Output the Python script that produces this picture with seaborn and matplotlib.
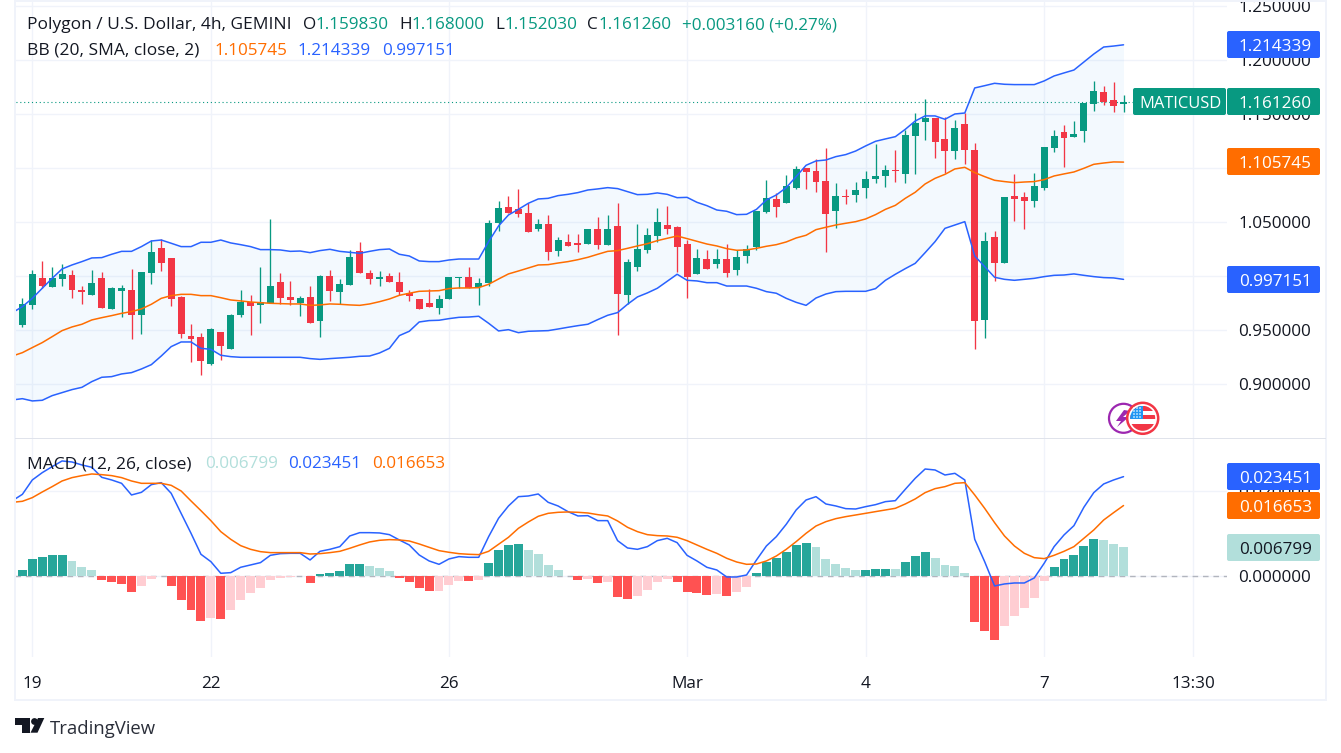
import numpy as np
import pandas as pd
import seaborn as sns
import matplotlib.pyplot as plt
from matplotlib.patches import Circle, FancyBboxPatch, Polygon, Rectangle

# -----------------------------
# Data (4h candles)
# -----------------------------
opens = [
    0.9484, 0.9549, 0.9735, 0.9985, 0.9901, 0.9975, 1.0012, 0.9873, 0.9827, 0.9985,
    0.9698, 0.9864, 0.9873, 0.9642, 1.0031, 1.0262, 1.0170, 0.9809, 0.9448, 0.9438,
    0.9188, 0.9485, 0.9327, 0.9642, 0.9762, 0.9735, 0.9750, 0.9948, 0.9809, 0.9753,
    0.9809, 0.9586, 1.0003, 0.9855, 0.9920, 1.0235, 1.0031, 0.9975, 1.0003, 0.9948,
    0.9846, 0.9790, 0.9753, 0.9707, 0.9790, 0.9981, 0.9994, 0.9901, 0.9938, 1.0494,
    1.0642, 1.0623, 1.0586, 1.0438, 1.0485, 1.0235, 1.0318, 1.0309, 1.0299, 1.0438,
    1.0290, 1.0466, 0.9827, 1.0086, 1.0244, 1.0373, 1.0475, 1.0457, 1.0299, 1.0022,
    1.0160, 1.0114, 1.0160, 1.0059, 1.0188, 1.0272, 1.0596, 1.0716, 1.0679, 1.0818,
    1.1003, 1.0975, 1.0883, 1.0605, 1.0744, 1.0753, 1.0818, 1.0901, 1.0929, 1.0985,
    1.0948, 1.1299, 1.1429, 1.1466, 1.1272, 1.1160, 1.1410, 1.1170, 0.9596, 1.0364,
    1.0123, 1.0744, 1.0735, 1.0698, 1.0818, 1.1188, 1.1336, 1.1290, 1.1346, 1.1596,
    1.1707, 1.1633, 1.15983,
]
highs = [
    0.9540, 0.9799, 1.0059, 1.0142, 1.0086, 1.0114, 1.0059, 0.9910, 1.0059, 1.0040,
    0.9901, 0.9920, 1.0068, 1.0040, 1.0336, 1.0346, 1.0170, 0.9818, 0.9559, 0.9475,
    0.9522, 0.9485, 0.9651, 0.9873, 0.9827, 1.0086, 1.0531, 1.0031, 0.9957, 0.9818,
    0.9910, 1.0012, 1.0059, 0.9975, 1.0244, 1.0318, 1.0059, 1.0049, 1.0031, 1.0040,
    0.9873, 0.9790, 0.9883, 0.9827, 0.9994, 0.9994, 1.0086, 0.9985, 1.0522, 1.0698,
    1.0744, 1.0809, 1.0679, 1.0531, 1.0568, 1.0364, 1.0392, 1.0392, 1.0438, 1.0549,
    1.0568, 1.0679, 1.0160, 1.0485, 1.0448, 1.0633, 1.0651, 1.0466, 1.0336, 1.0253,
    1.0244, 1.0253, 1.0299, 1.0244, 1.0290, 1.0605, 1.0892, 1.0772, 1.0938, 1.1022,
    1.1003, 1.1086, 1.1188, 1.0864, 1.0809, 1.0873, 1.0975, 1.1225, 1.1031, 1.1170,
    1.1355, 1.1512, 1.1642, 1.1466, 1.1475, 1.1448, 1.1512, 1.1235, 1.0410, 1.0420,
    1.0735, 1.0948, 1.0781, 1.0957, 1.1198, 1.1355, 1.1401, 1.1438, 1.1605, 1.1809,
    1.1762, 1.1799, 1.16800,
]
lows = [
    0.9484, 0.9534, 0.9698, 0.9892, 0.9901, 0.9910, 0.9799, 0.9744, 0.9827, 0.9707,
    0.9698, 0.9623, 0.9420, 0.9466, 0.9929, 1.0049, 0.9725, 0.9429, 0.9207, 0.9086,
    0.9179, 0.9225, 0.9327, 0.9623, 0.9457, 0.9568, 0.9750, 0.9744, 0.9735, 0.9633,
    0.9568, 0.9438, 0.9772, 0.9744, 0.9920, 1.0031, 0.9929, 0.9910, 0.9948, 0.9827,
    0.9772, 0.9698, 0.9716, 0.9651, 0.9790, 0.9892, 0.9892, 0.9735, 0.9910, 1.0420,
    1.0586, 1.0549, 1.0410, 1.0420, 1.0151, 1.0188, 1.0281, 1.0225, 1.0299, 1.0253,
    1.0290, 0.9457, 0.9744, 1.0049, 1.0216, 1.0318, 1.0392, 1.0040, 0.9799, 1.0022,
    1.0068, 1.0077, 0.9994, 1.0012, 1.0123, 1.0244, 1.0586, 1.0549, 1.0679, 1.0809,
    1.0809, 1.0781, 1.0225, 1.0448, 1.0670, 1.0688, 1.0725, 1.0864, 1.0827, 1.0873,
    1.0864, 1.0948, 1.1262, 1.1096, 1.0957, 1.1086, 1.1040, 0.9327, 0.9429, 0.9957,
    1.0123, 1.0512, 1.0438, 1.0642, 1.0799, 1.1151, 1.1012, 1.1290, 1.1244, 1.1531,
    1.1586, 1.1522, 1.15203,
]
closes = [
    0.9540, 0.9744, 1.0022, 0.9910, 0.9988, 1.0022, 0.9873, 0.9855, 0.9938, 0.9707,
    0.9892, 0.9892, 0.9642, 1.0040, 1.0225, 1.0123, 0.9790, 0.9466, 0.9420, 0.9216,
    0.9512, 0.9355, 0.9642, 0.9762, 0.9725, 0.9762, 0.9910, 0.9799, 0.9781, 0.9799,
    0.9568, 1.0003, 0.9864, 0.9929, 1.0179, 1.0031, 0.9975, 0.9994, 0.9948, 0.9855,
    0.9818, 0.9698, 0.9716, 0.9790, 0.9994, 0.9991, 0.9892, 0.9938, 1.0494, 1.0633,
    1.0586, 1.0577, 1.0410, 1.0485, 1.0225, 1.0336, 1.0281, 1.0293, 1.0438, 1.0290,
    1.0438, 0.9836, 1.0133, 1.0253, 1.0383, 1.0503, 1.0438, 1.0272, 0.9994, 1.0170,
    1.0068, 1.0160, 1.0031, 1.0179, 1.0253, 1.0605, 1.0725, 1.0642, 1.0836, 1.0994,
    1.0966, 1.0873, 1.0577, 1.0744, 1.0735, 1.0799, 1.0901, 1.0929, 1.0985, 1.0978,
    1.1309, 1.1420, 1.1466, 1.1244, 1.1160, 1.1373, 1.1170, 0.9586, 1.0327, 1.0123,
    1.0735, 1.0716, 1.0698, 1.0836, 1.1198, 1.1299, 1.1281, 1.1318, 1.1605, 1.1716,
    1.1614, 1.1577, 1.16126,
]

bb_upper = [
    0.9664, 0.9719, 0.9796, 0.9889, 0.9981, 1.0068, 1.0105, 1.0136, 1.0170, 1.0173,
    1.0204, 1.0231, 1.0231, 1.0275, 1.0327, 1.0336, 1.0306, 1.0275, 1.0275, 1.0315,
    1.0315, 1.0336, 1.0309, 1.0293, 1.0275, 1.0247, 1.0247, 1.0244, 1.0231, 1.0234,
    1.0219, 1.0238, 1.0250, 1.0231, 1.0222, 1.0213, 1.0231, 1.0247, 1.0253, 1.0204,
    1.0188, 1.0142, 1.0136, 1.0136, 1.0151, 1.0160, 1.0160, 1.0160, 1.0321, 1.0466,
    1.0568, 1.0620, 1.0676, 1.0716, 1.0722, 1.0747, 1.0759, 1.0775, 1.0799, 1.0809,
    1.0821, 1.0812, 1.0784, 1.0756, 1.0759, 1.0772, 1.0759, 1.0728, 1.0731, 1.0685,
    1.0654, 1.0614, 1.0602, 1.0571, 1.0574, 1.0620, 1.0707, 1.0753, 1.0821, 1.0923,
    1.1028, 1.1068, 1.1077, 1.1108, 1.1127, 1.1160, 1.1207, 1.1250, 1.1272, 1.1293,
    1.1361, 1.1438, 1.1485, 1.1485, 1.1454, 1.1503, 1.1512, 1.1744, 1.1765, 1.1787,
    1.1778, 1.1775, 1.1775, 1.1775, 1.1809, 1.1855, 1.1883, 1.1910, 1.1984, 1.2058,
    1.2123, 1.2132, 1.214339,
]
bb_basis = [
    0.9262, 0.9293, 0.9340, 0.9386, 0.9441, 0.9497, 0.9531, 0.9556, 0.9596, 0.9617,
    0.9636, 0.9657, 0.9673, 0.9698, 0.9741, 0.9796, 0.9821, 0.9833, 0.9833, 0.9821,
    0.9821, 0.9802, 0.9781, 0.9772, 0.9762, 0.9756, 0.9750, 0.9747, 0.9744, 0.9744,
    0.9731, 0.9735, 0.9744, 0.9741, 0.9735, 0.9731, 0.9744, 0.9765, 0.9790, 0.9824,
    0.9843, 0.9861, 0.9864, 0.9867, 0.9886, 0.9892, 0.9892, 0.9895, 0.9926, 0.9975,
    1.0022, 1.0049, 1.0077, 1.0105, 1.0108, 1.0123, 1.0136, 1.0154, 1.0176, 1.0204,
    1.0231, 1.0238, 1.0259, 1.0281, 1.0302, 1.0330, 1.0352, 1.0373, 1.0349, 1.0324,
    1.0299, 1.0281, 1.0256, 1.0241, 1.0244, 1.0259, 1.0278, 1.0293, 1.0318, 1.0355,
    1.0380, 1.0432, 1.0454, 1.0475, 1.0491, 1.0506, 1.0531, 1.0571, 1.0620, 1.0657,
    1.0722, 1.0778, 1.0855, 1.0907, 1.0944, 1.0994, 1.1009, 1.0960, 1.0923, 1.0889,
    1.0877, 1.0867, 1.0873, 1.0877, 1.0895, 1.0929, 1.0948, 1.0966, 1.1000, 1.1037,
    1.1049, 1.1059, 1.105745,
]
bb_lower = [
    0.8855, 0.8867, 0.8846, 0.8852, 0.8895, 0.8923, 0.8951, 0.8972, 0.9025, 0.9065,
    0.9071, 0.9096, 0.9108, 0.9142, 0.9182, 0.9262, 0.9349, 0.9392, 0.9392, 0.9333,
    0.9324, 0.9269, 0.9256, 0.9250, 0.9250, 0.9250, 0.9250, 0.9250, 0.9250, 0.9250,
    0.9238, 0.9231, 0.9238, 0.9244, 0.9250, 0.9259, 0.9262, 0.9290, 0.9333, 0.9451,
    0.9491, 0.9577, 0.9590, 0.9593, 0.9608, 0.9620, 0.9623, 0.9630, 0.9565, 0.9494,
    0.9506, 0.9478, 0.9491, 0.9494, 0.9497, 0.9512, 0.9528, 0.9543, 0.9556, 0.9599,
    0.9639, 0.9664, 0.9741, 0.9809, 0.9846, 0.9889, 0.9954, 1.0019, 0.9963, 0.9957,
    0.9941, 0.9941, 0.9910, 0.9910, 0.9910, 0.9889, 0.9858, 0.9843, 0.9796, 0.9759,
    0.9731, 0.9799, 0.9836, 0.9858, 0.9861, 0.9861, 0.9861, 0.9886, 0.9963, 1.0019,
    1.0071, 1.0120, 1.0219, 1.0321, 1.0444, 1.0475, 1.0506, 1.0188, 1.0090, 0.9991,
    0.9972, 0.9963, 0.9972, 0.9981, 0.9997, 1.0009, 1.0012, 1.0022, 1.0009, 0.9997,
    0.9988, 0.9985, 0.997151,
]

macd_line = [
    0.01780, 0.01929, 0.02267, 0.02439, 0.02580, 0.02714, 0.02690, 0.02620, 0.02565, 0.02329,
    0.02267, 0.02188, 0.01914, 0.01976, 0.02157, 0.02204, 0.01953, 0.01482, 0.01012, 0.00518,
    0.00345, 0.00071, 0.00086, 0.00212, 0.00267, 0.00322, 0.00494, 0.00533, 0.00541, 0.00541,
    0.00384, 0.00588, 0.00635, 0.00698, 0.00949, 0.01027, 0.01027, 0.01020, 0.00980, 0.00855,
    0.00737, 0.00502, 0.00361, 0.00282, 0.00408, 0.00463, 0.00447, 0.00447, 0.00933, 0.01365,
    0.01655, 0.01874, 0.01890, 0.01937, 0.01741, 0.01655, 0.01522, 0.01420, 0.01427, 0.01310,
    0.01310, 0.00839, 0.00667, 0.00635, 0.00698, 0.00839, 0.00894, 0.00792, 0.00494, 0.00361,
    0.00212, 0.00149, -0.00016, -0.00016, 0.00031, 0.00384, 0.00714, 0.00933, 0.01224, 0.01561,
    0.01796, 0.01874, 0.01702, 0.01655, 0.01592, 0.01584, 0.01639, 0.01686, 0.01757, 0.01780,
    0.02047, 0.02306, 0.02525, 0.02502, 0.02384, 0.02423, 0.02267, 0.00871, 0.00345, -0.00227,
    -0.00180, -0.00157, -0.00157, -0.00039, 0.00306, 0.00698, 0.00973, 0.01192, 0.01624, 0.01969,
    0.02173, 0.02267, 0.023451,
]
macd_signal = [
    0.01741, 0.01765, 0.01851, 0.01984, 0.02110, 0.02243, 0.02322, 0.02369, 0.02408, 0.02392,
    0.02369, 0.02322, 0.02243, 0.02188, 0.02188, 0.02188, 0.02141, 0.02008, 0.01773, 0.01545,
    0.01310, 0.01051, 0.00871, 0.00722, 0.00635, 0.00580, 0.00557, 0.00557, 0.00557, 0.00557,
    0.00525, 0.00533, 0.00557, 0.00588, 0.00659, 0.00737, 0.00808, 0.00847, 0.00863, 0.00855,
    0.00831, 0.00761, 0.00682, 0.00604, 0.00565, 0.00533, 0.00518, 0.00510, 0.00588, 0.00753,
    0.00918, 0.01129, 0.01278, 0.01412, 0.01482, 0.01506, 0.01514, 0.01506, 0.01490, 0.01451,
    0.01420, 0.01302, 0.01153, 0.01051, 0.00980, 0.00957, 0.00949, 0.00918, 0.00839, 0.00737,
    0.00635, 0.00541, 0.00424, 0.00337, 0.00282, 0.00290, 0.00361, 0.00478, 0.00635, 0.00816,
    0.01012, 0.01184, 0.01286, 0.01357, 0.01404, 0.01443, 0.01482, 0.01522, 0.01561, 0.01600,
    0.01702, 0.01820, 0.01969, 0.02063, 0.02110, 0.02188, 0.02204, 0.01914, 0.01600, 0.01263,
    0.00949, 0.00714, 0.00541, 0.00439, 0.00416, 0.00494, 0.00588, 0.00698, 0.00894, 0.01090,
    0.01325, 0.01498, 0.016653,
]
macd_hist = [
    0.0, 0.00149, 0.00408, 0.00455, 0.00502, 0.00502, 0.00361, 0.00220, 0.00149, -0.00086,
    -0.00133, -0.00180, -0.00369, -0.00227, -0.00063, 0.00016, -0.00227, -0.00557, -0.00792, -0.01051,
    -0.00980, -0.01004, -0.00792, -0.00557, -0.00392, -0.00275, -0.00086, -0.00039, -0.00016, 0.00008,
    -0.00157, 0.00055, 0.00078, 0.00125, 0.00290, 0.00290, 0.00243, 0.00196, 0.00125, -0.00039,
    -0.00133, -0.00275, -0.00345, -0.00345, -0.00204, -0.00102, -0.00110, -0.00086, 0.00314, 0.00620,
    0.00737, 0.00761, 0.00620, 0.00525, 0.00267, 0.00149, 0.00008, -0.00086, -0.00063, -0.00157,
    -0.00133, -0.00486, -0.00533, -0.00463, -0.00322, -0.00133, -0.00063, -0.00133, -0.00369, -0.00392,
    -0.00439, -0.00416, -0.00463, -0.00369, -0.00251, 0.00078, 0.00337, 0.00431, 0.00573, 0.00737,
    0.00784, 0.00690, 0.00408, 0.00290, 0.00196, 0.00149, 0.00149, 0.00173, 0.00173, 0.00169,
    0.00337, 0.00478, 0.00573, 0.00431, 0.00267, 0.00243, 0.00078, -0.01074, -0.01286, -0.01498,
    -0.01169, -0.00933, -0.00745, -0.00510, -0.00110, 0.00220, 0.00408, 0.00502, 0.00714, 0.00878,
    0.00855, 0.00761, 0.006799,
]

time_ticks = [0, 18, 42, 66, 84, 102, 117]
time_labels = ["19", "22", "26", "Mar", "4", "7", "13:30"]
price_ticks = [0.90, 0.95, 1.00, 1.05, 1.10, 1.15, 1.20, 1.25]
# 1.00 and 1.10 sit fully behind the price tags, so they get no text
price_labels = ["0.900000", "0.950000", "", "1.050000", "", "1.150000", "1.200000", "1.250000"]
macd_ticks = [0.0, 0.02]

# -----------------------------
# Colours
# -----------------------------
UP = "#089981"
DOWN = "#F23645"
BLUE = "#2962FF"
ORANGE = "#FF6D00"
GRID = "#F0F3FA"
INK = "#131722"
HIST_COLORS = {
    "up_strong": "#26A69A",
    "up_weak": "#B2DFDB",
    "down_strong": "#FF5252",
    "down_weak": "#FFCDD2",
}

# -----------------------------
# Style
# -----------------------------
sns.set_theme(style="white")
plt.rcParams["font.family"] = ["Open Sans", "DejaVu Sans"]
FS = 12.3
FS_NAME = 12.5

W, H = 1341, 753
fig = plt.figure(figsize=(W / 100, H / 100), dpi=100, facecolor="white")


def pane(left, top, right, bottom):
    return fig.add_axes([left / W, 1 - bottom / H, (right - left) / W, (bottom - top) / H])


ax1 = pane(15, 2, 1227, 438)
ax2 = pane(15, 439, 1227, 657)

idx = np.arange(-2, 111)
df = pd.DataFrame({
    "i": idx,
    "open": opens, "high": highs, "low": lows, "close": closes,
    "upper": bb_upper, "basis": bb_basis, "lower": bb_lower,
    "macd": macd_line, "signal": macd_signal, "hist": macd_hist,
})

# -----------------------------
# Price pane
# -----------------------------
ax1.fill_between(df["i"], df["lower"], df["upper"], color="#2196F3", alpha=0.05, lw=0, zorder=1)
ax1.hlines(closes[-1], -2, 111, color=UP, lw=0.8, ls=(0, (1, 2.5)), zorder=1.5)

colors = np.where(df["close"] >= df["open"], UP, DOWN)
ax1.vlines(df["i"], df["low"], df["high"], colors=colors, lw=0.95, zorder=2)
ax1.bar(df["i"], (df["close"] - df["open"]).abs(), bottom=df[["open", "close"]].min(axis=1),
        width=0.7, color=colors, lw=0, zorder=2)

for col, c in [("upper", BLUE), ("lower", BLUE), ("basis", ORANGE)]:
    sns.lineplot(data=df, x="i", y=col, color=c, linewidth=1.1, errorbar=None, ax=ax1, zorder=3)

ax1.set_ylim(0.85028, 1.25398)
ax1.set_yticks(price_ticks)
ax1.set_yticklabels(price_labels)

# -----------------------------
# MACD pane
# -----------------------------
ax2.axhline(0, color="#B2B5BE", lw=1, ls=(0, (4, 3.5)), zorder=1)

prev = df["hist"].shift(1).fillna(0)
df["shade"] = np.where(
    df["hist"] >= 0,
    np.where(df["hist"] >= prev, "up_strong", "up_weak"),
    np.where(df["hist"] < prev, "down_strong", "down_weak"),
)
sns.barplot(data=df, x="i", y="hist", hue="shade", palette=HIST_COLORS, native_scale=True,
            dodge=False, width=0.9, saturation=1, linewidth=0, errorbar=None, legend=False,
            ax=ax2, zorder=2)
sns.lineplot(data=df, x="i", y="macd", color=BLUE, linewidth=1.1, errorbar=None, ax=ax2, zorder=3)
sns.lineplot(data=df, x="i", y="signal", color=ORANGE, linewidth=1.1, errorbar=None, ax=ax2, zorder=3)

ax2.set_ylim(-0.01899, 0.03231)
ax2.set_yticks(macd_ticks)
ax2.set_yticklabels([f"{v:.6f}" for v in macd_ticks])

# -----------------------------
# Axes dressing
# -----------------------------
for ax in (ax1, ax2):
    ax.set_xlim(-1.744, 120.43)
    ax.set_xlabel("")
    ax.set_ylabel("")
    ax.set_xticks(time_ticks)
    ax.grid(True, color=GRID, lw=1)
    ax.set_axisbelow(True)
    ax.yaxis.tick_right()
    ax.tick_params(axis="y", length=0, pad=8.2, labelsize=FS, labelcolor=INK)
    for s in ax.spines.values():
        s.set_visible(False)
ax1.tick_params(axis="x", length=0, labelbottom=False)
ax2.set_xticklabels(time_labels)
ax2.tick_params(axis="x", length=0, pad=14, labelsize=FS, labelcolor=INK)

# -----------------------------
# Overlay in pixels: frame, legends, price tags, logos
# -----------------------------
ov = fig.add_axes([0, 0, 1, 1], zorder=10, facecolor="none")
ov.set_xlim(0, W)
ov.set_ylim(H, 0)
ov.axis("off")

FRAME = "#F0F3FA"
ov.add_patch(Rectangle((14, 0), 2, 700, color=FRAME, lw=0))
ov.add_patch(Rectangle((1325.5, 0), 2, 700, color=FRAME, lw=0))
ov.add_patch(Rectangle((14, 0), 1313, 1.6, color=FRAME, lw=0))
ov.add_patch(Rectangle((14, 698.6), 1313, 2, color=FRAME, lw=0))
ov.add_patch(Rectangle((15, 437.6), 1311, 1.4, color="#E0E3EB", lw=0))


def label(x, y, s, color=INK, **kw):
    ov.text(x, y, s, color=color, fontsize=kw.pop("fontsize", FS), va="center_baseline", ha="left", **kw)


TEAL = "#089981"
label(27, 23, "Polygon / U.S. Dollar, 4h, GEMINI", fontsize=FS_NAME)
for x, s in [(303, "O"), (399, "H"), (495, "L"), (587, "C")]:
    label(x, 23, s)
for x, s in [(316, "1.159830"), (412, "1.168000"), (505, "1.152030"), (599, "1.161260"),
             (682, "+0.003160 (+0.27%)")]:
    label(x, 23, s, color=TEAL)

label(27, 48.5, "BB (20, SMA, close, 2)", fontsize=FS_NAME)
label(215, 48.5, "1.105745", color=ORANGE)
label(298, 48.5, "1.214339", color=BLUE)
label(382, 48.5, "0.997151", color=BLUE)

label(27, 462, "MACD (12, 26, close)", fontsize=FS_NAME)
label(205, 462, "0.006799", color="#B2DFDB")
label(288, 462, "0.023451", color=BLUE)
label(372, 462, "0.016653", color=ORANGE)


def tag(x0, x1, y0, y1, color):
    ov.add_patch(FancyBboxPatch((x0 + 1.5, y0 + 1.5), x1 - x0 - 3, y1 - y0 - 3,
                                boxstyle="round,pad=1.5,rounding_size=2", fc=color, ec="none"))


for y0, y1, c, s, tc in [
    (31, 58, BLUE, "1.214339", "white"),
    (88, 115, UP, "1.161260", "white"),
    (148, 175, ORANGE, "1.105745", "white"),
    (266, 293, BLUE, "0.997151", "white"),
    (463, 490, BLUE, "0.023451", "white"),
    (492, 519, ORANGE, "0.016653", "white"),
    (534, 561, "#B2DFDB", "0.006799", INK),
]:
    tag(1227, 1320, y0, y1, c)
    label(1239, (y0 + y1) / 2, s, color=tc)
tag(1133, 1226, 88, 115, UP)
label(1139, 101.5, "MATICUSD", color="white", fontsize=11.9)

# bolt badge + US flag badge
ov.add_patch(Circle((1123.5, 418.3), 14.5, fc="white", ec="#9C27B0", lw=1.6))
ov.add_patch(Polygon([(1124, 410), (1116, 421), (1121, 421), (1117, 427), (1129, 417), (1123, 417), (1130, 411)],
                     fc="#9C27B0", ec="none"))
ov.add_patch(Circle((1142.7, 418.3), 15.5, fc="white", ec=DOWN, lw=1.8))
flag = Circle((1142.7, 418.3), 12.5, transform=ov.transData)
for y0, h, c in [(405.8, 5.5, DOWN), (411.3, 3.5, "white"), (414.8, 4.5, DOWN),
                 (419.3, 4.5, "white"), (423.8, 7, DOWN)]:
    r = Rectangle((1128, y0), 30, h, fc=c, ec="none")
    ov.add_patch(r)
    r.set_clip_path(flag)
r = Rectangle((1128, 405.8), 15, 13, fc="#2196F3", ec="none")
ov.add_patch(r)
r.set_clip_path(flag)
for sx in range(1134, 1143, 3):
    for sy in range(408, 418, 3):
        ov.add_patch(Circle((sx, sy), 0.8, fc="white", ec="none"))

# TradingView mark
ov.add_patch(Polygon([(15, 718), (30.5, 718), (30.5, 732.7), (22.5, 732.7), (22.5, 725), (15, 725)],
                     fc=INK, ec="none"))
ov.add_patch(Circle((34.5, 721.5), 3.4, fc=INK, ec="none"))
ov.add_patch(Polygon([(38, 718), (44.3, 718), (37.5, 732.7), (30.5, 732.7)], fc=INK, ec="none"))
label(50, 727, "TradingView", color="#2A2E39", fontsize=13.3)

fig.savefig("out.png", dpi=100)
plt.close(fig)
